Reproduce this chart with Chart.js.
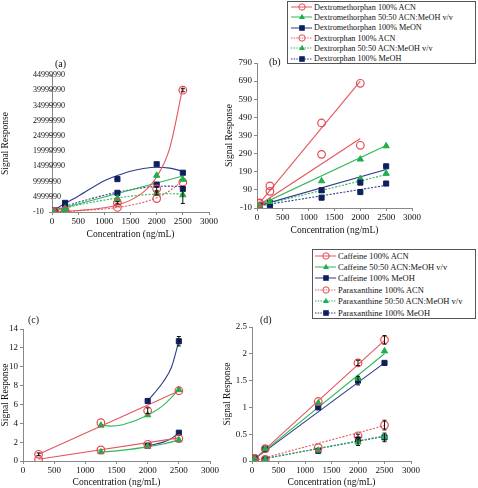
<!DOCTYPE html>
<html>
<head>
<meta charset="utf-8">
<script src="https://cdn.jsdelivr.net/npm/chart.js@4.4.1/dist/chart.umd.min.js"></script>
<style>
  body { margin: 0; background: #fff; width: 478px; height: 488px; position: relative; overflow: hidden;
         font-family: "Liberation Serif", "Times New Roman", serif; color: #111; }
  canvas { position: absolute; }
  .lab { position: absolute; font-size: 10px; line-height: 10px; }
  .legend { position: absolute; border: 1px solid #555; box-sizing: border-box; background: #fff; }
  .legend .row { display: flex; align-items: center; white-space: nowrap; }
  .legend svg { flex: none; }
</style>
</head>
<body>
<canvas id="chA" width="240" height="200" style="left:0;top:40px"></canvas>
<canvas id="chB" width="254" height="200" style="left:224px;top:40px"></canvas>
<canvas id="chC" width="235" height="188" style="left:0;top:300px"></canvas>
<canvas id="chD" width="256" height="188" style="left:222px;top:300px"></canvas>

<div class="lab" style="left:55px;top:59px">(a)</div>
<div class="lab" style="left:269px;top:57px">(b)</div>
<div class="lab" style="left:28px;top:315px">(c)</div>
<div class="lab" style="left:260px;top:315px">(d)</div>

<div class="legend" id="legB" style="left:287px;top:1px;width:189px;height:63px;padding-left:3px;font-size:8.2px"></div>
<div class="legend" id="legD" style="left:312px;top:249px;width:164px;height:70px;padding-left:2px;font-size:8.5px"></div>

<script>
// concentrations (ng/mL)
const concs = [10, 50, 250, 1250, 2000, 2500];
const xTicks = [0, 500, 1000, 1500, 2000, 2500, 3000];

// (a) Dextromethorphan / Dextrorphan, signal response
const aTicks = [-10, 4999990, 9999990, 14999990, 19999990, 24999990, 29999990, 34999990, 39999990, 44999990];
const aDmAcn  = [0, 100000, 500000, 3000000, 7600000, 40000000];
const aDm5050 = [0, 200000, 1200000, 4500000, 12000000, 10700000];
const aDmMeoh = [100000, 500000, 3000000, 10800000, 15700000, 12900000];
const aDxAcn  = [0, 50000, 300000, 1500000, 4400000, 9800000];
const aDx5050 = [0, 100000, 800000, 4000000, 6100000, 5600000];
const aDxMeoh = [100000, 300000, 1500000, 6300000, 9000000, 7600000];
const aErrDmAcn  = [0, 0, 0, 400000, 600000, 500000];
const aErrDx5050 = [0, 0, 0, 0, 500000, 2800000];
// (a) trend curves
const aTrendX = [0, 250, 500, 1000, 1250, 1500, 1750, 2000, 2250, 2500];
const aTrDmAcn  = [100000, 200000, 500000, 1400000, 2300000, 3900000, 6600000, 11500000, 21000000, 41000000];
const aTrDmMeoh = [300000, 2800000, 5200000, 10300000, 12000000, 13400000, 14300000, 14700000, 14400000, 13400000];
const aTrDm5050 = [300000, 1450000, 2600000, 4900000, 6050000, 7200000, 8350000, 9500000, 10650000, 11800000];
const aTrDxAcn  = [100000, 200000, 400000, 1000000, 1500000, 2200000, 3200000, 4700000, 7000000, 10300000];
const aTrDx5050 = [300000, 1300000, 2300000, 3900000, 4600000, 5200000, 5600000, 5900000, 6000000, 5900000];
const aTrDxMeoh = [300000, 1800000, 3200000, 5500000, 6500000, 7300000, 8000000, 8400000, 8500000, 8300000];

// (b) same analytes, other detector
const bTicks = [-10, 90, 190, 290, 390, 490, 590, 690, 790];
const bDmAcn  = [0, 18, 112, 459, 678, null];
const bDm5050 = [0, 5, 25, 139, 259, 332];
const bDmMeoh = [0, 4, 18, 88, 130, 220];
const bDxAcn  = [0, 15, 82, 286, 336, null];
const bDx5050 = [0, 3, 15, 85, 152, 180];
const bDxMeoh = [0, 1, 5, 47, 78, 125];
const bLineX2000 = [0, 2000];
const bLineX2500 = [0, 2500];
const bTrDmAcn  = [0, 690];
const bTrDxAcn  = [0, 373];
const bTrDm5050 = [0, 335];
const bTrDmMeoh = [0, 202];
const bTrDx5050 = [0, 174];
const bTrDxMeoh = [0, 115];

// (c) Caffeine / Paraxanthine
const cTicks = [0, 2, 4, 6, 8, 10, 12, 14];
const cCafAcn  = [null, null, 0.71, 4.06, 5.33, 7.45];
const cCaf5050 = [null, null, null, 3.78, 4.88, 7.55];
const cCafMeoh = [null, null, null, null, 6.36, 12.7];
const cParAcn  = [null, null, 0.18, 1.17, 1.77, 2.37];
const cPar5050 = [null, null, null, 0.95, 1.55, 2.23];
const cParMeoh = [null, null, null, null, 1.59, 3.0];
const cErrCafAcn  = [0, 0, 0.15, 0, 0.3, 0];
const cErrCafMeoh = [0, 0, 0, 0, 0, 0.5];
const cTrAcnX  = [250, 2500];
const cTrCafAcn = [0.71, 7.42];
const cTrParAcn = [0.18, 2.45];
const cTr5050X = [1250, 1400, 1600, 2000, 2250, 2500];
const cTrCaf5050 = [3.78, 3.7, 3.85, 4.85, 5.9, 7.55];
const cTrPar5050 = [0.95, 1.02, 1.15, 1.5, 1.8, 2.23];
const cTrMeohX = [2000, 2250, 2385, 2500];
const cTrCafMeoh = [6.36, 8.4, 10.0, 12.7];
const cTrParMeoh = [1.59, 2.0, 2.4, 3.0];

// (d)
const dTicks = [0, 0.5, 1, 1.5, 2, 2.5];
const dCafAcn  = [0.02, 0.05, 0.23, 1.11, 1.83, 2.26];
const dCaf5050 = [0, 0.05, 0.23, 1.08, 1.54, 2.05];
const dCafMeoh = [0.02, 0.06, 0.22, 1.0, 1.5, 1.83];
const dParAcn  = [0, 0.01, 0.03, 0.25, 0.47, 0.67];
const dPar5050 = [0, 0.01, 0.03, 0.2, 0.35, 0.45];
const dParMeoh = [0, 0.01, 0.03, 0.19, 0.4, 0.44];
const dErrCafAcn  = [0, 0, 0, 0, 0.05, 0.08];
const dErrCafMeoh = [0, 0, 0, 0, 0.08, 0];
const dErrParAcn  = [0, 0, 0, 0, 0.03, 0.09];
const dErrPar5050 = [0, 0, 0, 0, 0.06, 0];
const dErrParMeoh = [0, 0, 0, 0, 0, 0.08];
const dLineX = [50, 2500];
const dTrCafAcn  = [0.04, 2.25];
const dTrCaf5050 = [0.04, 2.0];
const dTrCafMeoh = [0.04, 1.83];
const dTrParAcn  = [0.01, 0.66];
const dTrPar5050 = [0.01, 0.47];
const dTrParMeoh = [0.01, 0.46];

const legB = ["Dextromethorphan 100% ACN", "Dextromethorphan 50:50 ACN:MeOH v/v", "Dextromethorphan 100% MeON",
              "Dextrorphan 100% ACN", "Dextrorphan 50:50 ACN:MeOH v/v", "Dextrorphan 100% MeOH"];
const legD = ["Caffeine 100% ACN", "Caffeine 50:50 ACN:MeOH v/v", "Caffeine 100% MeOH",
              "Paraxanthine 100% ACN", "Paraxanthine 50:50 ACN:MeOH v/v", "Paraxanthine 100% MeOH"];

const RED = "#e5484f", GREEN = "#1fae4b", NAVY = "#0f1f5e";
const RED_L = "#e4575c", GREEN_L = "#2fb75a", NAVY_L = "#2c3b8c";
const FONT = "'Liberation Serif', 'Times New Roman', serif";

// marker styles per series kind
const kinds = {
  acn:  { color: RED,   line: RED_L,   style: "circle",   r: 3.8, fill: "rgba(255,255,255,0)" },
  mix:  { color: GREEN, line: GREEN_L, style: "triangle", r: 3.6, fill: GREEN },
  meoh: { color: NAVY,  line: NAVY_L,  style: "rect",     r: 3.6, fill: NAVY }
};

function pts(xs, ys) {
  return xs.map((x, i) => ({ x: x, y: ys[i] }));
}

function points(ys, kind, errs) {
  const k = kinds[kind];
  return {
    type: "scatter", data: pts(concs, ys), showLine: false, order: 1,
    pointStyle: k.style, pointRadius: k.r, pointBorderColor: k.color,
    pointBackgroundColor: k.fill, pointBorderWidth: kind === "acn" ? 1.2 : 1,
    errs: errs
  };
}

function trend(xs, ys, kind, dotted, curve) {
  const k = kinds[kind];
  return {
    type: "line", data: pts(xs, ys), order: 2, pointRadius: 0,
    borderColor: k.line, borderWidth: 1.1, borderDash: dotted ? [2, 1.5] : [],
    cubicInterpolationMode: curve ? "monotone" : "default", fill: false
  };
}

// black error bars drawn over the markers
const errorBars = {
  id: "errorBars",
  afterDatasetsDraw(chart) {
    const ctx = chart.ctx, xs = chart.scales.x, ys = chart.scales.y;
    chart.data.datasets.forEach(ds => {
      if (!ds.errs) return;
      ds.data.forEach((p, i) => {
        const e = ds.errs[i];
        if (!e || p.y == null) return;
        const x = xs.getPixelForValue(p.x);
        const y1 = ys.getPixelForValue(p.y - e), y2 = ys.getPixelForValue(p.y + e);
        ctx.save();
        ctx.strokeStyle = "#111";
        ctx.lineWidth = 1;
        ctx.beginPath();
        ctx.moveTo(x, y1); ctx.lineTo(x, y2);
        ctx.moveTo(x - 2, y1); ctx.lineTo(x + 2, y1);
        ctx.moveTo(x - 2, y2); ctx.lineTo(x + 2, y2);
        ctx.stroke();
        ctx.restore();
      });
    });
  }
};

function makeChart(id, datasets, yMin, yMax, yTicks, box) {
  const plain = v => String(v);
  new Chart(document.getElementById(id), {
    type: "scatter",
    data: { datasets: datasets },
    plugins: [errorBars],
    options: {
      responsive: false, animation: false,
      layout: { padding: { left: 0, top: box.top, right: box.right, bottom: box.bottom } },
      plugins: { legend: { display: false }, tooltip: { enabled: false } },
      scales: {
        x: {
          type: "linear", min: 0, max: 3000,
          afterBuildTicks: s => { s.ticks = xTicks.map(v => ({ value: v })); },
          afterFit: s => { s.height = box.xh; },
          grid: { drawOnChartArea: false, drawTicks: true, tickLength: 3, color: "#888" },
          border: { color: "#888", width: 1 },
          ticks: { color: "#111", font: { family: FONT, size: 9 }, padding: 1, maxRotation: 0, autoSkip: false, callback: plain },
          title: { display: true, text: "Concentration (ng/mL)", color: "#111", font: { family: FONT, size: 9.5 }, padding: 0 }
        },
        y: {
          type: "linear", min: yMin, max: yMax,
          afterBuildTicks: s => { s.ticks = yTicks.map(v => ({ value: v })); },
          afterFit: s => { s.width = box.yw; },
          grid: { drawOnChartArea: false, drawTicks: true, tickLength: 3, color: "#888" },
          border: { color: "#888", width: 1 },
          ticks: { color: "#111", font: { family: FONT, size: box.yFont }, padding: box.yPad, mirror: !!box.mirror,
                   callback: plain, autoSkip: false },
          title: { display: true, text: "Signal Response", color: "#111", font: { family: FONT, size: 9.5 }, padding: 0 }
        }
      }
    }
  });
}

makeChart("chA", [
  points(aDmAcn, "acn", aErrDmAcn), points(aDm5050, "mix"), points(aDmMeoh, "meoh"),
  points(aDxAcn, "acn"), points(aDx5050, "mix", aErrDx5050), points(aDxMeoh, "meoh"),
  trend(aTrendX, aTrDmAcn, "acn", false, true), trend(aTrendX, aTrDm5050, "mix", false, false),
  trend(aTrendX, aTrDmMeoh, "meoh", false, true), trend(aTrendX, aTrDxAcn, "acn", true, true),
  trend(aTrendX, aTrDx5050, "mix", true, true), trend(aTrendX, aTrDxMeoh, "meoh", true, true)
], -10, 44999990, aTicks, { top: 35, right: 31, bottom: 0, xh: 28, yw: 52, yFont: 8, yPad: -19, mirror: true });

makeChart("chB", [
  points(bDmAcn, "acn"), points(bDm5050, "mix"), points(bDmMeoh, "meoh"),
  points(bDxAcn, "acn"), points(bDx5050, "mix"), points(bDxMeoh, "meoh"),
  trend(bLineX2000, bTrDmAcn, "acn", false, false), trend(bLineX2500, bTrDm5050, "mix", false, false),
  trend(bLineX2500, bTrDmMeoh, "meoh", false, false), trend(bLineX2000, bTrDxAcn, "acn", false, false),
  trend(bLineX2500, bTrDx5050, "mix", true, false), trend(bLineX2500, bTrDxMeoh, "meoh", true, false)
], -10, 790, bTicks, { top: 23, right: 66, bottom: 4, xh: 28, yw: 33, yFont: 9, yPad: 2 });

makeChart("chC", [
  points(cCafAcn, "acn", cErrCafAcn), points(cCaf5050, "mix"), points(cCafMeoh, "meoh", cErrCafMeoh),
  points(cParAcn, "acn"), points(cPar5050, "mix"), points(cParMeoh, "meoh"),
  trend(cTrAcnX, cTrCafAcn, "acn", false, false), trend(cTr5050X, cTrCaf5050, "mix", false, true),
  trend(cTrMeohX, cTrCafMeoh, "meoh", false, true), trend(cTrAcnX, cTrParAcn, "acn", false, false),
  trend(cTr5050X, cTrPar5050, "mix", false, true), trend(cTrMeohX, cTrParMeoh, "meoh", false, true)
], 0, 14, cTicks, { top: 29, right: 25, bottom: 0, xh: 27, yw: 23, yFont: 9, yPad: 2 });

makeChart("chD", [
  points(dCafAcn, "acn", dErrCafAcn), points(dCaf5050, "mix"), points(dCafMeoh, "meoh", dErrCafMeoh),
  points(dParAcn, "acn", dErrParAcn), points(dPar5050, "mix", dErrPar5050), points(dParMeoh, "meoh", dErrParMeoh),
  trend(dLineX, dTrCafAcn, "acn", false, false), trend(dLineX, dTrCaf5050, "mix", false, false),
  trend(dLineX, dTrCafMeoh, "meoh", false, false), trend(dLineX, dTrParAcn, "acn", true, false),
  trend(dLineX, dTrPar5050, "mix", true, false), trend(dLineX, dTrParMeoh, "meoh", true, false)
], 0, 2.5, dTicks, { top: 27, right: 67, bottom: 0, xh: 27, yw: 30, yFont: 9, yPad: 2 });

// legends
const legKinds = ["acn", "mix", "meoh", "acn", "mix", "meoh"];
function marker(kind) {
  const k = kinds[kind];
  if (kind === "acn") return `<circle cx="11" cy="5" r="3.2" fill="none" stroke="${k.color}" stroke-width="1"/>`;
  if (kind === "mix") return `<polygon points="11,1.8 14,7 8,7" fill="${k.color}"/>`;
  return `<rect x="8.2" y="2.2" width="5.6" height="5.6" fill="${k.color}"/>`;
}
function buildLegend(id, labels, rowH, svgW, lineW) {
  const el = document.getElementById(id);
  labels.forEach((t, i) => {
    const kind = legKinds[i];
    const dash = i >= 3 ? 'stroke-dasharray="1.5,1.2"' : "";
    const row = document.createElement("div");
    row.className = "row";
    row.style.height = rowH + "px";
    row.innerHTML = `<svg width="${svgW}" height="10"><line x1="0" y1="5" x2="${lineW}" y2="5" stroke="${kinds[kind].line}" stroke-width="1" ${dash}/>${marker(kind)}</svg><span>${t}</span>`;
    el.appendChild(row);
  });
}
buildLegend("legB", legB, 10.3, 23, 21);
buildLegend("legD", legD, 11.4, 23, 21);
</script>
</body>
</html>
